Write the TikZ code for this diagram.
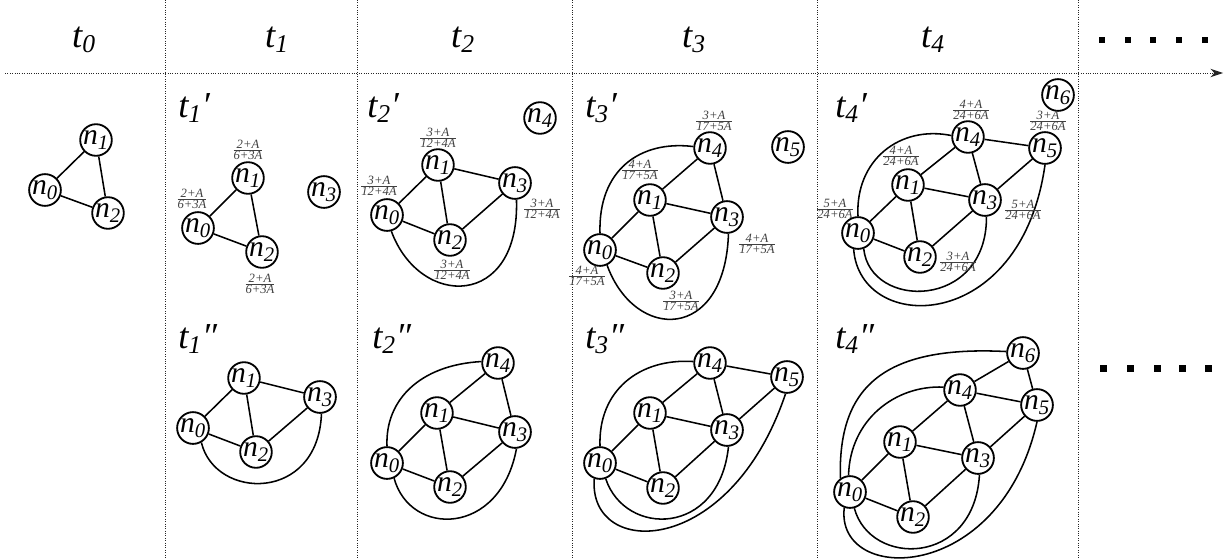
\documentclass[tikz,border=0pt]{standalone}
\usepackage{amsmath}
\usepackage{fontspec}
\setmainfont{Liberation Serif}
\usetikzlibrary{arrows.meta}
\newcommand{\nn}[1]{n\textsubscript{#1}}
\newcommand{\tlab}[1]{t\textsubscript{#1}}
\newcommand{\wfrac}[2]{$\genfrac{}{}{0.3pt}{1}{\mbox{#1}}{\mbox{#2}}$}
\begin{document}
\begin{tikzpicture}[
  x=0.025cm, y=-0.025cm,
  vtx/.style={circle, draw, line width=1.3pt, minimum size=0.68cm, inner sep=0pt, font=\fontsize{21}{21}\selectfont\itshape},
  wt/.style={inner sep=0pt, text=black!75, font=\fontsize{9}{9}\selectfont\itshape},
  hd/.style={anchor=base, font=\fontsize{26}{26}\selectfont\itshape},
  sub/.style={anchor=base west, inner sep=0pt, font=\fontsize{26}{26}\selectfont\itshape},
  sep/.style={densely dotted, line width=0.7pt, black!85},
  e/.style={line width=1.1pt}
]
\useasboundingbox (0,0) rectangle (1224,559);

% grid
\foreach \x in {165,357,572,817,1078}
  \draw[sep] (\x,0) -- (\x,559);
\draw[sep, -{Stealth[length=9pt,width=6pt]}] (5,73) -- (1223,73);
\node[hd] (h0) at (84,47) {\tlab{0}};
\node[hd] (h1) at (277,47) {\tlab{1}};
\node[hd] (h2) at (463,47) {\tlab{2}};
\node[hd] (h3) at (694,47) {\tlab{3}};
\node[hd] (h4) at (933,47) {\tlab{4}};
\foreach \x in {1102,1128,1153,1179,1205}
  \fill (\x-3,37) rectangle ++(6,6);
\foreach \x in {1103,1130,1157,1182,1208}
  \fill (\x-3,365) rectangle ++(7,7);

\node[sub] (l1a) at (178,117) {\tlab{1}′};
\node[sub] (l2a) at (367,117) {\tlab{2}′};
\node[sub] (l3a) at (585,117) {\tlab{3}′};
\node[sub] (l4a) at (835,117) {\tlab{4}′};
\node[sub] (l1b) at (178,348) {\tlab{1}″};
\node[sub] (l2b) at (372,348) {\tlab{2}″};
\node[sub] (l3b) at (585,348) {\tlab{3}″};
\node[sub] (l4b) at (835,348) {\tlab{4}″};

% t0
\node[vtx] (t0-n0) at (45,190) {\nn{0}};
\node[vtx] (t0-n1) at (96,140) {\nn{1}};
\node[vtx] (t0-n2) at (108,213) {\nn{2}};
\foreach \u/\v in {n0/n1,n1/n2,n0/n2}
  \draw[e] (t0-\u) -- (t0-\v);

% t1'
\node[vtx] (t1a-n0) at (198,228) {\nn{0}};
\node[vtx] (t1a-n1) at (248,178) {\nn{1}};
\node[vtx] (t1a-n2) at (262,252) {\nn{2}};
\node[vtx] (t1a-n3) at (324,192) {\nn{3}};
\foreach \u/\v in {n0/n1,n1/n2,n0/n2}
  \draw[e] (t1a-\u) -- (t1a-\v);
\node[wt] (t1a-w1) at (248,150) {\wfrac{2+A}{6+3A}};
\node[wt] (t1a-w0) at (192,199) {\wfrac{2+A}{6+3A}};
\node[wt] (t1a-w2) at (260,284) {\wfrac{2+A}{6+3A}};

% t1''
\node[vtx] (t1b-n0) at (193,428) {\nn{0}};
\node[vtx] (t1b-n1) at (244,378) {\nn{1}};
\node[vtx] (t1b-n2) at (256,452) {\nn{2}};
\node[vtx] (t1b-n3) at (320,397) {\nn{3}};
\foreach \u/\v in {n0/n1,n1/n2,n0/n2,n1/n3,n2/n3}
  \draw[e] (t1b-\u) -- (t1b-\v);
\draw[e] (t1b-n0.-60) .. controls (215,500) and (318,503) .. (t1b-n3.-85);

% t2'
\node[vtx] (t2a-n0) at (387,215) {\nn{0}};
\node[vtx] (t2a-n1) at (438,165) {\nn{1}};
\node[vtx] (t2a-n2) at (450,240) {\nn{2}};
\node[vtx] (t2a-n3) at (515,183) {\nn{3}};
\node[vtx] (t2a-n4) at (540,118) {\nn{4}};
\foreach \u/\v in {n0/n1,n1/n2,n0/n2,n1/n3,n2/n3}
  \draw[e] (t2a-\u) -- (t2a-\v);
\draw[e] (t2a-n0.-75) .. controls (420,309) and (520,309) .. (t2a-n3.-85);
\node[wt] (t2a-w1) at (438,138) {\wfrac{3+A}{12+4A}};
\node[wt] (t2a-w0) at (379,186) {\wfrac{3+A}{12+4A}};
\node[wt] (t2a-w3) at (542,209) {\wfrac{3+A}{12+4A}};
\node[wt] (t2a-w2) at (452,270) {\wfrac{3+A}{12+4A}};

% t2''
\node[vtx] (t2b-n0) at (387,463) {\nn{0}};
\node[vtx] (t2b-n1) at (437,413) {\nn{1}};
\node[vtx] (t2b-n2) at (450,487) {\nn{2}};
\node[vtx] (t2b-n3) at (515,432) {\nn{3}};
\node[vtx] (t2b-n4) at (498,363) {\nn{4}};
\foreach \u/\v in {n0/n1,n1/n2,n0/n2,n1/n3,n2/n3,n1/n4,n3/n4}
  \draw[e] (t2b-\u) -- (t2b-\v);
\draw[e] (t2b-n0.90) .. controls (385,400) and (420,365) .. (t2b-n4.175);
\draw[e] (t2b-n0.-65) .. controls (410,537) and (500,537) .. (t2b-n3.-85);

% t3'
\node[vtx] (t3a-n0) at (600,250) {\nn{0}};
\node[vtx] (t3a-n1) at (650,200) {\nn{1}};
\node[vtx] (t3a-n2) at (663,273) {\nn{2}};
\node[vtx] (t3a-n3) at (727,217) {\nn{3}};
\node[vtx] (t3a-n4) at (710,148) {\nn{4}};
\node[vtx] (t3a-n5) at (788,147) {\nn{5}};
\foreach \u/\v in {n0/n1,n1/n2,n0/n2,n1/n3,n2/n3,n1/n4,n3/n4}
  \draw[e] (t3a-\u) -- (t3a-\v);
\draw[e] (t3a-n0.90) .. controls (598,170) and (640,140) .. (t3a-n4.175);
\draw[e] (t3a-n0.-65) .. controls (635,342) and (725,342) .. (t3a-n3.-85);
\node[wt] (t3a-w4) at (714,121) {\wfrac{3+A}{17+5A}};
\node[wt] (t3a-w1) at (640,170) {\wfrac{4+A}{17+5A}};
\node[wt] (t3a-w3) at (757,244) {\wfrac{4+A}{17+5A}};
\node[wt] (t3a-w0) at (587,276) {\wfrac{4+A}{17+5A}};
\node[wt] (t3a-w2) at (681,301) {\wfrac{3+A}{17+5A}};

% t3''
\node[vtx] (t3b-n0) at (600,463) {\nn{0}};
\node[vtx] (t3b-n1) at (650,413) {\nn{1}};
\node[vtx] (t3b-n2) at (663,488) {\nn{2}};
\node[vtx] (t3b-n3) at (727,430) {\nn{3}};
\node[vtx] (t3b-n4) at (710,363) {\nn{4}};
\node[vtx] (t3b-n5) at (787,377) {\nn{5}};
\foreach \u/\v in {n0/n1,n1/n2,n0/n2,n1/n3,n2/n3,n1/n4,n3/n4,n4/n5,n3/n5}
  \draw[e] (t3b-\u) -- (t3b-\v);
\draw[e] (t3b-n0.90) .. controls (598,390) and (640,358) .. (t3b-n4.175);
\draw[e] (t3b-n0.-70) .. controls (625,537) and (719,537) .. (t3b-n3.-85);
\draw[e] (t3b-n0.-110) .. controls (588,559) and (730,559) .. (t3b-n5.-95);

% t4'
\node[vtx] (t4a-n0) at (858,233) {\nn{0}};
\node[vtx] (t4a-n1) at (908,185) {\nn{1}};
\node[vtx] (t4a-n2) at (920,257) {\nn{2}};
\node[vtx] (t4a-n3) at (985,200) {\nn{3}};
\node[vtx] (t4a-n4) at (968,137) {\nn{4}};
\node[vtx] (t4a-n5) at (1045,148) {\nn{5}};
\node[vtx] (t4a-n6) at (1058,95) {\nn{6}};
\foreach \u/\v in {n0/n1,n1/n2,n0/n2,n1/n3,n2/n3,n1/n4,n3/n4,n4/n5,n3/n5}
  \draw[e] (t4a-\u) -- (t4a-\v);
\draw[e] (t4a-n0.90) .. controls (855,160) and (900,125) .. (t4a-n4.175);
\draw[e] (t4a-n0.-70) .. controls (870,310) and (987,310) .. (t4a-n3.-85);
\draw[e] (t4a-n0.-105) .. controls (860,335) and (1021,335) .. (t4a-n5.-90);
\node[wt] (t4a-w4) at (971,110) {\wfrac{4+A}{24+6A}};
\node[wt] (t4a-w5) at (1048,121) {\wfrac{3+A}{24+6A}};
\node[wt] (t4a-w1) at (901,156) {\wfrac{4+A}{24+6A}};
\node[wt] (t4a-w0) at (835,209) {\wfrac{5+A}{24+6A}};
\node[wt] (t4a-w3) at (1023,210) {\wfrac{5+A}{24+6A}};
\node[wt] (t4a-w2) at (958,262) {\wfrac{3+A}{24+6A}};

% t4''
\node[vtx] (t4b-n0) at (850,492) {\nn{0}};
\node[vtx] (t4b-n1) at (900,442) {\nn{1}};
\node[vtx] (t4b-n2) at (913,517) {\nn{2}};
\node[vtx] (t4b-n3) at (978,458) {\nn{3}};
\node[vtx] (t4b-n4) at (960,390) {\nn{4}};
\node[vtx] (t4b-n5) at (1037,405) {\nn{5}};
\node[vtx] (t4b-n6) at (1023,353) {\nn{6}};
\foreach \u/\v in {n0/n1,n1/n2,n0/n2,n1/n3,n2/n3,n1/n4,n3/n4,n4/n5,n3/n5,n4/n6,n5/n6}
  \draw[e] (t4b-\u) -- (t4b-\v);
\draw[e] (t4b-n0.95) .. controls (850,420) and (895,385) .. (t4b-n4.170);
\draw[e] (t4b-n0.125) .. controls (838,390) and (880,345) .. (t4b-n6.175);
\draw[e] (t4b-n0.-75) .. controls (870,567) and (974,567) .. (t4b-n3.-85);
\draw[e] (t4b-n0.-110) .. controls (835,585) and (1000,585) .. (t4b-n5.-90);
\end{tikzpicture}
\end{document}
